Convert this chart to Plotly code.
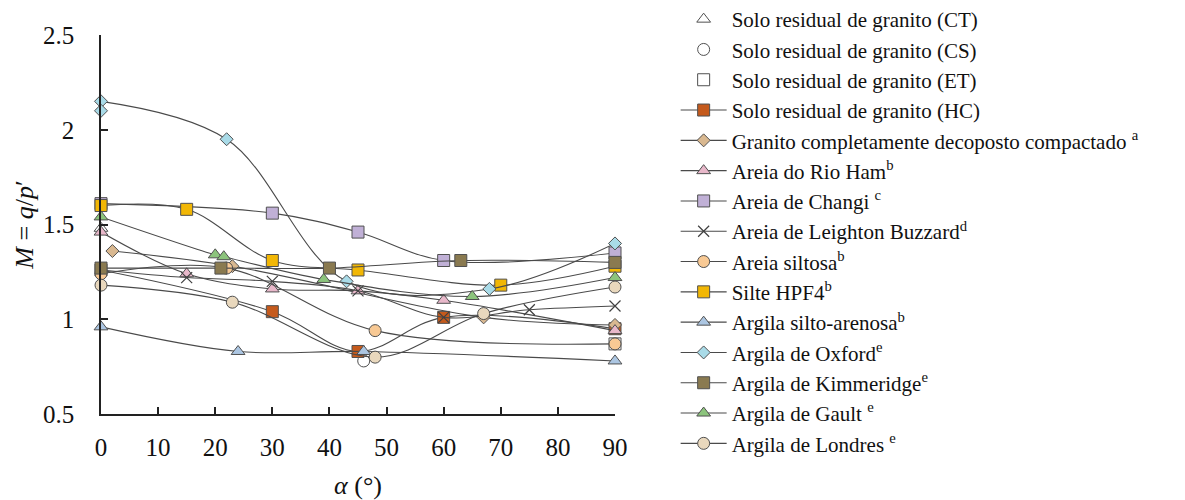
import plotly.graph_objects as go

# Ângulo alpha (graus) e razão de tensões M = q/p' por material
ct_x = [0]
ct_y = [1.48]
cs_x = [46]
cs_y = [0.78]
et_x = [90]
et_y = [0.87]
hc_x = [0, 30, 45, 60, 90]
hc_y = [1.26, 1.04, 0.83, 1.01, 0.95]
gcd_x = [2, 23, 67, 90]
gcd_y = [1.36, 1.28, 1.01, 0.97]
ham_x = [0, 15, 30, 45, 60, 90]
ham_y = [1.46, 1.24, 1.16, 1.15, 1.10, 0.94]
changi_x = [0, 30, 45, 60, 90]
changi_y = [1.61, 1.56, 1.46, 1.31, 1.35]
lb_x = [0, 15, 30, 45, 60, 75, 90]
lb_y = [1.26, 1.22, 1.20, 1.15, 1.01, 1.05, 1.07]
silt_x = [0, 22, 48, 90]
silt_y = [1.24, 1.27, 0.94, 0.87]
hpf4_x = [0, 15, 30, 45, 70, 90]
hpf4_y = [1.60, 1.58, 1.31, 1.26, 1.18, 1.28]
sa_x = [0, 24, 46, 90]
sa_y = [0.96, 0.83, 0.83, 0.78]
oxf_x = [0, 22, 43, 68, 90]
oxf_y = [2.15, 1.95, 1.20, 1.16, 1.40]
oxf_extra_x = [0]
oxf_extra_y = [2.10]
kim_x = [0, 21, 40, 63, 90]
kim_y = [1.27, 1.27, 1.27, 1.31, 1.30]
gault_x = [0, 20, 21.5, 39, 65, 90]
gault_y = [1.54, 1.34, 1.33, 1.21, 1.12, 1.22]
lon_x = [0, 23, 48, 67, 90]
lon_y = [1.18, 1.09, 0.80, 1.03, 1.17]

x_ticks = [0, 10, 20, 30, 40, 50, 60, 70, 80, 90]
y_ticks = [0.5, 1, 1.5, 2, 2.5]

LINE = "#4a4a4a"
EDGE = "#505050"
SERIF = "Liberation Serif"

series = [
    ("Solo residual de granito (CT)", ct_x, ct_y, "triangle-up", "#ffffff", False),
    ("Solo residual de granito (CS)", cs_x, cs_y, "circle", "#ffffff", False),
    ("Solo residual de granito (ET)", et_x, et_y, "square", "#ffffff", False),
    ("Solo residual de granito (HC)", hc_x, hc_y, "square", "#c55a1c", True),
    ("Granito completamente decoposto compactado <sup>a</sup>", gcd_x, gcd_y, "diamond", "#d9b890", True),
    ("Areia do Rio Ham<sup>b</sup>", ham_x, ham_y, "triangle-up", "#e8b8ca", True),
    ("Areia de Changi <sup>c</sup>", changi_x, changi_y, "square", "#c0b0d6", True),
    ("Areia de Leighton Buzzard<sup>d</sup>", lb_x, lb_y, "x-thin", "#404040", True),
    ("Areia siltosa<sup>b</sup>", silt_x, silt_y, "circle", "#f8c994", True),
    ("Silte HPF4<sup>b</sup>", hpf4_x, hpf4_y, "square", "#f2b705", True),
    ("Argila silto-arenosa<sup>b</sup>", sa_x, sa_y, "triangle-up", "#acc6e2", True),
    ("Argila de Oxford<sup>e</sup>", oxf_x, oxf_y, "diamond", "#a9dbe8", True),
    ("Argila de Kimmeridge<sup>e</sup>", kim_x, kim_y, "square", "#8a7a50", True),
    ("Argila de Gault <sup>e</sup>", gault_x, gault_y, "triangle-up", "#8cc47c", True),
    ("Argila de Londres <sup>e</sup>", lon_x, lon_y, "circle", "#e9d8bd", True),
]

fig = go.Figure()

for i, (name, xs, ys, sym, col, has_line) in enumerate(series):
    is_x = sym == "x-thin"
    marker = dict(
        symbol=sym,
        size=11 if is_x else (10 if sym == "diamond" else 12),
        color=col,
        line=dict(color=col if is_x else EDGE, width=1.2 if is_x else 1),
    )
    fig.add_trace(go.Scatter(
        x=xs, y=ys, name=name,
        mode="lines+markers" if has_line else "markers",
        line=dict(color=LINE, width=1.1, shape="spline", smoothing=1.0),
        marker=marker,
        legendgroup=f"g{i}",
        cliponaxis=False,
    ))
    if name.startswith("Argila de Oxford"):
        fig.add_trace(go.Scatter(
            x=oxf_extra_x, y=oxf_extra_y, mode="markers", marker=marker,
            showlegend=False, legendgroup=f"g{i}", cliponaxis=False,
        ))

axis_common = dict(
    showgrid=False, zeroline=False, showline=True, linecolor="#222222", linewidth=1.6,
    ticks="inside", ticklen=7, tickwidth=1.6, tickcolor="#222222",
    tickfont=dict(family=SERIF, size=25, color="#111111"),
    mirror=False,
)

fig.update_xaxes(
    range=[0, 90], tickvals=x_ticks, ticklabelstandoff=10,
    title=dict(text="<i>α</i> (°)", font=dict(family=SERIF, size=26, color="#111111"), standoff=18),
    **axis_common,
)
fig.update_yaxes(
    range=[0.5, 2.5], tickvals=y_ticks, ticklabelstandoff=20,
    title=dict(text="<i>M</i> = <i>q</i>/<i>p</i>′", font=dict(family=SERIF, size=26, color="#111111"), standoff=2),
    **axis_common,
)

fig.update_layout(
    width=1185, height=500,
    margin=dict(l=101, r=570, t=35, b=86, autoexpand=False),
    paper_bgcolor="white", plot_bgcolor="white",
    font=dict(family=SERIF),
    showlegend=True,
    legend=dict(
        x=1.118, xanchor="left", y=1.095, yanchor="top",
        font=dict(family=SERIF, size=21, color="#111111"),
        tracegroupgap=0, itemsizing="trace", itemwidth=46,
        maxheight=520,
        bgcolor="rgba(0,0,0,0)",
    ),
)

fig.write_html("out.html")
